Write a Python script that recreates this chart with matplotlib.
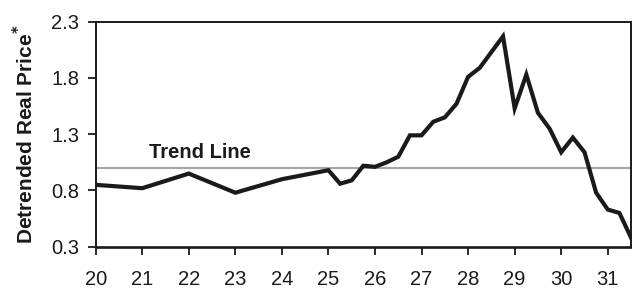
import numpy as np
import matplotlib
matplotlib.use("Agg")
import matplotlib.pyplot as plt

plt.rcParams['font.family'] = ['Liberation Sans', 'DejaVu Sans']

# annual points first, then quarterly from 25 on
years = [20, 21, 22, 23, 24, 25, 25.25, 25.5, 25.75, 26, 26.25, 26.5, 26.75,
         27, 27.25, 27.5, 27.75, 28, 28.25, 28.5, 28.75, 29, 29.25, 29.5,
         29.75, 30, 30.25, 30.5, 30.75, 31, 31.25, 31.5]
price = [0.85, 0.82, 0.95, 0.78, 0.90, 0.98, 0.86, 0.89, 1.02, 1.01, 1.05,
         1.10, 1.29, 1.29, 1.41, 1.45, 1.57, 1.81, 1.89, 2.03, 2.17, 1.53,
         1.83, 1.49, 1.35, 1.14, 1.27, 1.14, 0.78, 0.63, 0.60, 0.38]
trend = 1.0
yticks = [0.3, 0.8, 1.3, 1.8, 2.3]
xticks = list(range(20, 32))

fig = plt.figure(figsize=(6.32, 2.91), dpi=100)
ax = fig.add_axes([0.1514, 0.1522, 0.8471, 0.7732])

ax.axhline(trend, color='#a6a6a6', lw=1.5, zorder=1)
ax.plot(years, price, color='#1a1a1a', lw=3.0, solid_joinstyle='miter', zorder=2)
ax.text(22.25, 1.14, 'Trend Line', fontsize=14.5, fontweight='bold',
        color='#1a1a1a', ha='center', va='center')

ax.set_xlim(20, 31.5)
ax.set_ylim(0.3, 2.3)
ax.set_xticks(xticks)
ax.set_yticks(yticks)
ax.set_yticklabels(['%.1f' % v for v in yticks])
ax.tick_params(axis='both', direction='out', length=6, width=1.3,
               color='#1a1a1a', labelsize=14.5, labelcolor='#1a1a1a')
ax.tick_params(axis='x', pad=11)
ax.tick_params(axis='y', pad=6)
for s in ax.spines.values():
    s.set_color('#1a1a1a')
    s.set_linewidth(1.4)
ax.spines['bottom'].set_linewidth(1.9)

ax.set_ylabel('Detrended Real Price$^\\mathbf{*}$', fontsize=15, fontweight='bold',
              color='#1a1a1a', labelpad=10)

fig.savefig('out.png', dpi=100)
